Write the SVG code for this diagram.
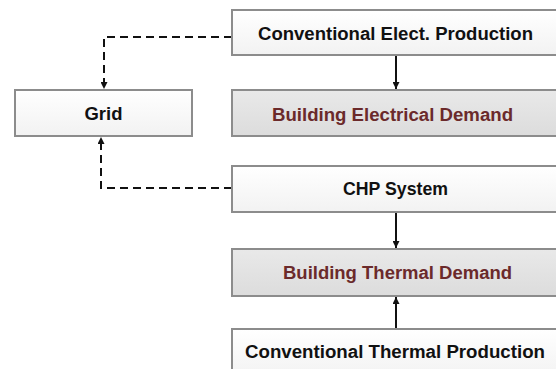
<svg xmlns="http://www.w3.org/2000/svg" width="556" height="369" viewBox="0 0 556 369">
<defs>
<linearGradient id="gw" x1="0" y1="0" x2="0" y2="1"><stop offset="0" stop-color="#ffffff"/><stop offset="1" stop-color="#f2f2f2"/></linearGradient>
<linearGradient id="gg" x1="0" y1="0" x2="0" y2="1"><stop offset="0" stop-color="#e9e9e9"/><stop offset="1" stop-color="#dcdcdc"/></linearGradient>
<marker id="ah" viewBox="0 0 10 10" refX="10" refY="5" markerWidth="7" markerHeight="7" markerUnits="userSpaceOnUse" orient="auto"><path d="M0,0 L10,5 L0,10 z" fill="#111"/></marker>
<style>
.bw{fill:url(#gw);stroke:#8c8c8c;stroke-width:2}
.bg{fill:url(#gg);stroke:#8c8c8c;stroke-width:2}
.t{font-family:"Liberation Sans",Arial,sans-serif;font-weight:bold;font-size:17.5px;fill:#111;text-anchor:middle}
.r{fill:#6b2a2b}
.d{fill:none;stroke:#111;stroke-width:2;stroke-dasharray:8 5}
.s{fill:none;stroke:#111;stroke-width:2}
</style>
</defs>
<g id="connectors">
<path class="d" d="M232,37 H104 V89" marker-end="url(#ah)"/>
<path class="d" d="M232,188 H101 V137" marker-end="url(#ah)"/>
<path class="s" d="M396,55 V89" marker-end="url(#ah)"/>
<path class="s" d="M396,212 V248" marker-end="url(#ah)"/>
<path class="s" d="M396,329 V297" marker-end="url(#ah)"/>
</g>
<g id="grid"><rect class="bw" x="15" y="90" width="177" height="46"/><text class="t" x="103.5" y="120" textLength="38" lengthAdjust="spacingAndGlyphs">Grid</text></g>
<g id="conv-elect"><rect class="bw" x="232" y="10" width="330" height="45"/><text class="t" x="395.5" y="40" textLength="275" lengthAdjust="spacingAndGlyphs">Conventional Elect. Production</text></g>
<g id="bldg-elec"><rect class="bg" x="232" y="90" width="330" height="46"/><text class="t r" x="392.5" y="121" textLength="241" lengthAdjust="spacingAndGlyphs">Building Electrical Demand</text></g>
<g id="chp"><rect class="bw" x="232" y="166" width="330" height="46"/><text class="t" x="395.5" y="195" textLength="105" lengthAdjust="spacingAndGlyphs">CHP System</text></g>
<g id="bldg-therm"><rect class="bg" x="232" y="249" width="330" height="47"/><text class="t r" x="397.5" y="279" textLength="229" lengthAdjust="spacingAndGlyphs">Building Thermal Demand</text></g>
<g id="conv-therm"><rect class="bw" x="232" y="329" width="330" height="50"/><text class="t" x="395" y="358" textLength="300" lengthAdjust="spacingAndGlyphs">Conventional Thermal Production</text></g>
</svg>
